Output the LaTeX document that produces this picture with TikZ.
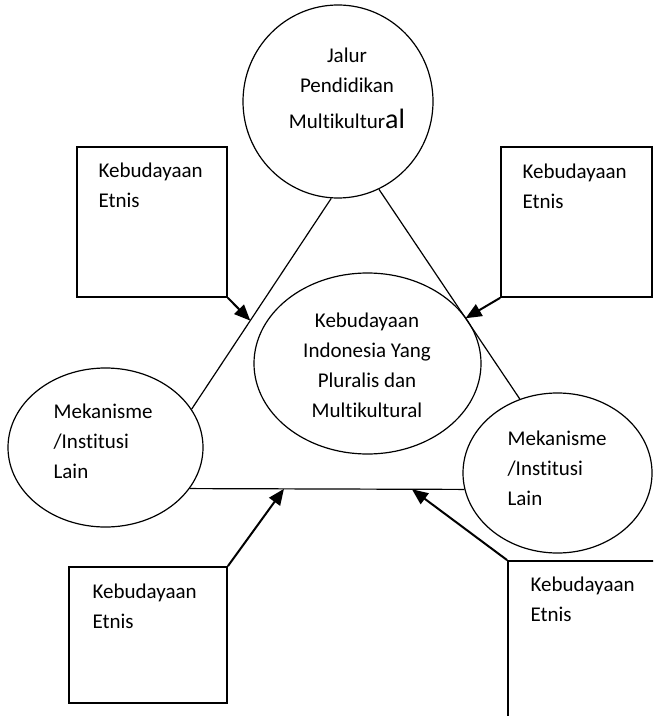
\documentclass[tikz,border=0pt]{standalone}
\usepackage{fontspec}
\setmainfont{Carlito}[Ligatures={NoCommon}]
\usetikzlibrary{shapes.geometric,arrows.meta}
\begin{document}
\begin{tikzpicture}[x=0.75pt, y=-0.75pt, line width=0.9pt,
	oval/.style = {draw, ellipse, inner sep=0pt},
	box/.style = {draw, rectangle, line width=1.3pt, inner sep=0pt},
	txt/.style = {inner sep=0pt, font=\fontsize{15.75}{22.5}\selectfont},
	arr/.style = {line width=1.5pt, -{Triangle[length=12pt, width=10pt]}}]

	\useasboundingbox (0,0) rectangle (653,716);
	\clip (0,0) rectangle (653,716);

	\node[oval, minimum width=142.5pt, minimum height=144.75pt] (jalur) at (338,101.5) {};
	\node[oval, minimum width=170.25pt, minimum height=135.75pt] (pusat) at (367.5,363.5) {};
	\node[oval, minimum width=146.25pt, minimum height=119.25pt] (kiri) at (105.5,447.5) {};
	\node[oval, minimum width=141.75pt, minimum height=120pt] (kanan) at (557.5,473) {};

	\node[box, minimum width=112.5pt, minimum height=112.5pt] (etA) at (152,222) {};
	\node[box, minimum width=113.25pt, minimum height=112.5pt] (etB) at (576.5,222) {};
	\node[box, minimum width=118.5pt, minimum height=102pt] (etC) at (148,635) {};
	\node[box, minimum width=150pt, minimum height=150pt] (etD) at (608,661) {};

	\node[txt, align=center, anchor=base] (jalurT) at (347,129) {Jalur\\Pendidikan\\[4.5pt]Multikultur{\fontsize{21}{21}\selectfont al}};
	\node[txt, align=center, anchor=base] (pusatT) at (367,417) {Kebudayaan\\Indonesia Yang\\Pluralis dan\\Multikultural};
	\node[txt, align=left, anchor=base west] (kiriT) at (53,478) {Mekanisme\\/Institusi\\Lain};
	\node[txt, align=left, anchor=base west] (kananT) at (507,505) {Mekanisme\\/Institusi\\Lain};
	\node[txt, align=left, anchor=base west] (etAT) at (98,208) {Kebudayaan\\Etnis};
	\node[txt, align=left, anchor=base west] (etBT) at (522,209) {Kebudayaan\\Etnis};
	\node[txt, align=left, anchor=base west] (etCT) at (92,628) {Kebudayaan\\Etnis};
	\node[txt, align=left, anchor=base west] (etDT) at (530,621) {Kebudayaan\\Etnis};

	\draw (jalur.-94) -- (kiri.24) coordinate[pos=0.58] (tipA);
	\draw (jalur.-65) -- (kanan.117) coordinate[pos=0.615] (tipB);
	\draw (kiri.-26) -- (kanan.-170) coordinate[pos=0.343] (tipC) coordinate[pos=0.809] (tipD);

	\draw[arr] (etA.south east) -- (tipA);
	\draw[arr] (etB.south west) -- (tipB);
	\draw[arr] (etC.north east) -- (tipC);
	\draw[arr] (etD.north west) -- (tipD);
\end{tikzpicture}
\end{document}
